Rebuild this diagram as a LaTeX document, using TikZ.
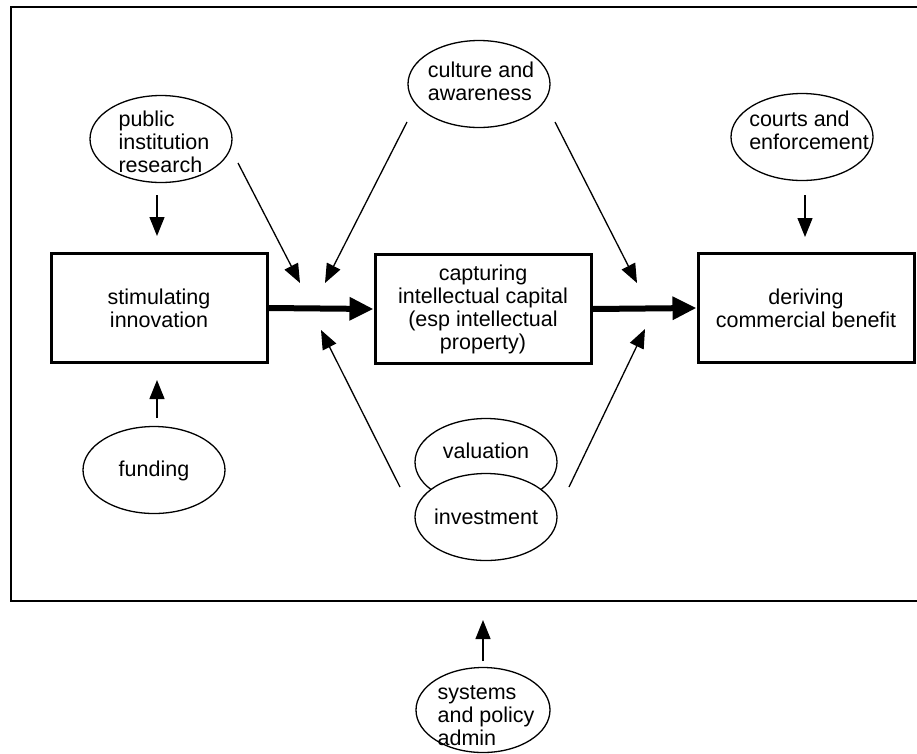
\documentclass[tikz,border=0pt]{standalone}
\usepackage{fontspec}
\setmainfont{Liberation Sans}
\usetikzlibrary{arrows.meta,shapes.geometric}

\tikzset{
  stage/.style={draw,line width=3pt,minimum width=216pt,minimum height=109pt,
    align=center,inner sep=0pt},
  factor/.style={draw,ellipse,line width=1.3pt,minimum width=142pt,
    minimum height=87pt,inner sep=0pt,fill=white},
  ftext/.style={align=left,inner sep=0pt},
  feed/.style={line width=1.3pt,-{Triangle[length=19pt,width=15pt]}},
  flow/.style={line width=6pt,-{Triangle[length=24pt,width=22pt]}}
}

\begin{document}
\begin{tikzpicture}[x=1pt,y=-1pt,font=\fontsize{21.5}{23}\selectfont]
    \useasboundingbox (0,0) rectangle (917,753);
    % frame
    \path[draw,line width=1.5pt](918,7) -- (11,7) -- (11,601) -- (918,601);

    % stages
    \node[stage] (stim) at (159,308) {stimulating\\innovation};
    \node[stage] (capt) at (483,309) {capturing\\intellectual capital\\(esp intellectual\\property)};
    \node[stage] (deriv) at (806,308) {deriving\\commercial benefit};
    \draw[flow] (stim.east) -- (capt.west);
    \draw[flow] (capt.east) -- (deriv.west);

    % factors
    \node[factor] (pub) at (161,139) {};
    \node[ftext] (pubtxt) at (164,142) {public\\institution\\research};
    \node[factor] (cult) at (479,84) {};
    \node[ftext] (culttxt) at (481,81) {culture and\\awareness};
    \node[factor] (court) at (802,137) {};
    \node[ftext] (courttxt) at (809,130) {courts and\\enforcement};
    \node[factor] (fund) at (154,470) {};
    \node[ftext] (fundtxt) at (154,471) {funding};
    \node[factor] (val) at (486,462) {};
    \node[ftext] (valtxt) at (486,451) {valuation};
    \node[factor] (inv) at (486,517) {};
    \node[ftext] (invtxt) at (486,517) {investment};
    \node[factor,minimum width=134pt,minimum height=85pt] (sys) at (483,710) {};
    \node[ftext] (systxt) at (486,716) {systems\\and policy\\admin};

    % feeds into the stages
    \coordinate (pubs) at (157,195);  \coordinate (stimn) at (157,236);
    \coordinate (funn) at (157,418);  \coordinate (stims) at (157,380);
    \coordinate (courts) at (805,195); \coordinate (derivn) at (805,237);
    \draw[feed] (pubs) -- (stimn);
    \draw[feed] (funn) -- (stims);
    \draw[feed] (courts) -- (derivn);

    % feeds into the flows
    \coordinate (pube) at (238,163);  \coordinate (fa) at (300,283);
    \coordinate (cultw) at (407,122); \coordinate (fb) at (325,283);
    \coordinate (culte) at (555,122); \coordinate (fc) at (637,283);
    \coordinate (invw) at (400,487);  \coordinate (fd) at (321,330);
    \coordinate (inve) at (569,487);  \coordinate (fe) at (645,329);
    \draw[feed] (pube) -- (fa);
    \draw[feed] (cultw) -- (fb);
    \draw[feed] (culte) -- (fc);
    \draw[feed] (invw) -- (fd);
    \draw[feed] (inve) -- (fe);

    % systems into the frame
    \coordinate (sysn) at (483,661); \coordinate (frames) at (483,620);
    \draw[feed] (sysn) -- (frames);
\end{tikzpicture}
\end{document}
